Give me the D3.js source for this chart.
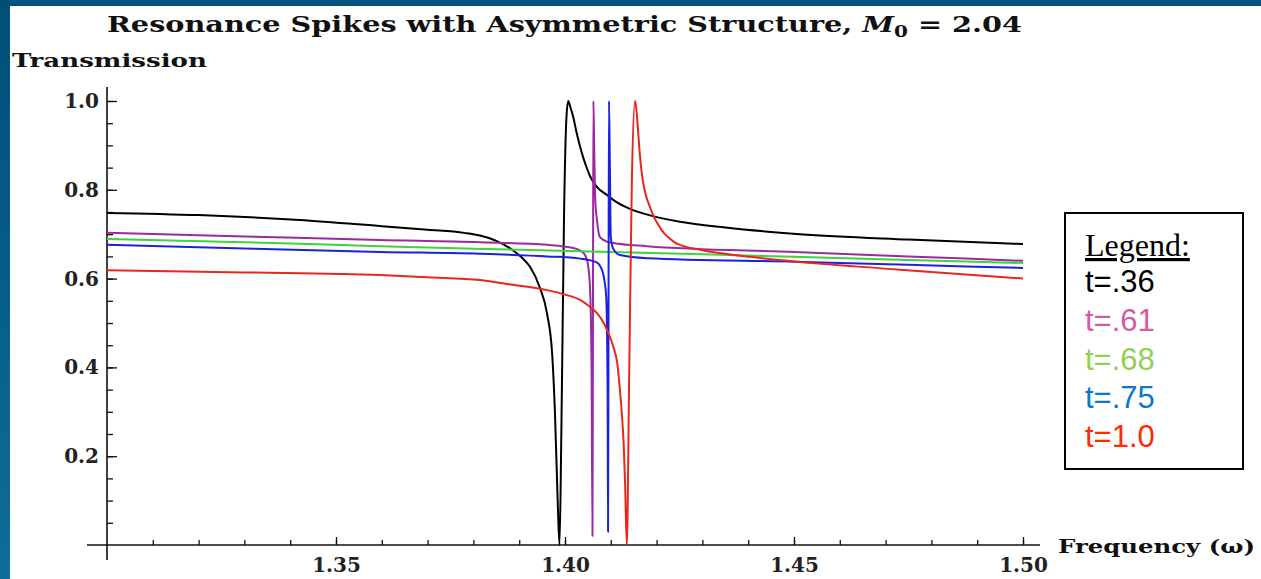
<!DOCTYPE html>
<html>
<head>
<meta charset="utf-8">
<script src="https://cdn.jsdelivr.net/npm/d3@7"></script>
<style>
    body { margin: 0; background: #fff; }
    #chart-area { width: 1261px; height: 579px; }
</style>
</head>
<body>
<div id="chart-area"></div>
<script>
// Curves: [frequency, transmission]
const t36 = [[1.300,0.748],[1.320,0.743],[1.342,0.732],[1.360,0.718],[1.370,0.710],[1.378,0.703],
    [1.3814,0.697],[1.385,0.685],[1.3886,0.664],[1.3905,0.648],[1.3924,0.626],[1.3945,0.58],
    [1.3961,0.52],[1.3972,0.43],[1.3978,0.30],[1.3984,0.10],[1.3988,0.0],[1.3992,0.25],
    [1.3998,0.75],[1.4003,0.96],[1.4007,1.0],[1.4012,0.985],[1.4018,0.964],[1.4025,0.93],
    [1.4033,0.897],[1.4040,0.872],[1.4048,0.848],[1.4055,0.83],[1.4070,0.806],[1.4092,0.788],
    [1.4110,0.774],[1.4142,0.757],[1.4180,0.744],[1.4251,0.728],[1.4350,0.715],[1.4513,0.70],
    [1.475,0.688],[1.500,0.678]];
const t61 = [[1.300,0.703],[1.330,0.695],[1.3596,0.687],[1.3814,0.682],[1.3961,0.676],[1.4018,0.669],
    [1.4040,0.658],[1.4047,0.645],[1.4051,0.626],[1.4055,0.57],[1.4058,0.40],[1.4060,0.02],
    [1.4061,0.5],[1.4062,1.0],[1.4064,0.88],[1.4066,0.78],[1.4070,0.73],[1.4076,0.694],
    [1.4090,0.684],[1.4105,0.68],[1.4179,0.673],[1.450,0.66],[1.475,0.65],[1.500,0.64]];
const t68 = [[1.300,0.689],[1.330,0.682],[1.3596,0.673],[1.390,0.665],[1.410,0.66],[1.430,0.655],
    [1.450,0.649],[1.475,0.642],[1.500,0.635]];
const t75 = [[1.300,0.676],[1.330,0.668],[1.3596,0.66],[1.3814,0.656],[1.3961,0.65],[1.4033,0.645],
    [1.4070,0.636],[1.4078,0.626],[1.4083,0.612],[1.4090,0.559],[1.4093,0.35],[1.4094,0.03],
    [1.4095,0.5],[1.4096,1.0],[1.4098,0.85],[1.4100,0.694],[1.4105,0.668],[1.4120,0.653],
    [1.4179,0.646],[1.450,0.638],[1.475,0.631],[1.500,0.624]];
const t100 = [[1.300,0.619],[1.330,0.614],[1.3596,0.608],[1.370,0.603],[1.3814,0.597],[1.3886,0.586],
    [1.3961,0.574],[1.4000,0.564],[1.4033,0.552],[1.4050,0.540],[1.4070,0.522],[1.4085,0.499],
    [1.4098,0.469],[1.4106,0.445],[1.4114,0.41],[1.4119,0.36],[1.4124,0.297],[1.4128,0.23],
    [1.4131,0.146],[1.4135,0.0],[1.4140,0.37],[1.4146,0.82],[1.4153,1.0],[1.4156,0.98],
    [1.4159,0.94],[1.4163,0.885],[1.4170,0.82],[1.4176,0.79],[1.4186,0.76],[1.4196,0.735],
    [1.4207,0.716],[1.4218,0.70],[1.4229,0.69],[1.4240,0.681],[1.4251,0.676],[1.4300,0.664],
    [1.4404,0.649],[1.4731,0.62],[1.500,0.60]];

const seriesNames = ["t=.36", "t=.61", "t=.68", "t=.75", "t=1.0"];
const seriesData = [t36, t61, t68, t75, t100];
const lineColors = ["#000000", "#9b2a9e", "#3ed33e", "#1f1fe0", "#e8261e"];
const legendColors = ["#000000", "#d65aa3", "#92d050", "#0a78cc", "#ff2a00"];

const xMajorTicks = [1.35, 1.40, 1.45, 1.50];
const yMajorTicks = [0.2, 0.4, 0.6, 0.8, 1.0];

class ResonanceChart {
    constructor(parentElement) {
        this.parentElement = parentElement;
        this.initVis();
    }

    initVis() {
        let vis = this;

        vis.svg = d3.select("#" + vis.parentElement)
            .append("svg")
            .attr("width", 1261)
            .attr("height", 579);

        // Blue slide frame on the top and left edges
        let grad = vis.svg.append("defs").append("linearGradient")
            .attr("id", "frame-grad")
            .attr("x1", 0).attr("y1", 0).attr("x2", 0).attr("y2", 1);
        grad.append("stop").attr("offset", "0%").attr("stop-color", "#004f78");
        grad.append("stop").attr("offset", "100%").attr("stop-color", "#0f6d99");

        vis.svg.append("rect").attr("x", 0).attr("y", 0).attr("width", 1261).attr("height", 6)
            .attr("fill", "#00537c");
        vis.svg.append("rect").attr("x", 0).attr("y", 0).attr("width", 10).attr("height", 579)
            .attr("fill", "url(#frame-grad)");

        // Scales
        vis.x = d3.scaleLinear().domain([1.30, 1.50]).range([107, 1023]);
        vis.y = d3.scaleLinear().domain([0, 1.0]).range([545, 101]);

        vis.drawAxes();
        vis.drawLines();
        vis.drawText();
        vis.drawLegend();
    }

    drawAxes() {
        let vis = this;
        let labelFont = "'DejaVu Serif', serif";

        // minor ticks first
        vis.svg.append("g")
            .attr("transform", `translate(${vis.x(1.30)},0)`)
            .call(d3.axisLeft(vis.y).tickValues(d3.range(1, 21).map(i => i * 0.05)).tickSize(-6).tickFormat(""))
            .call(g => g.select(".domain").remove())
            .call(g => g.selectAll("line").attr("stroke", "#111").attr("stroke-width", 1.3));

        vis.svg.append("g")
            .attr("transform", `translate(0,${vis.y(0)})`)
            .call(d3.axisBottom(vis.x).tickValues(d3.range(1, 21).map(i => 1.30 + i * 0.01)).tickSize(-5).tickFormat(""))
            .call(g => g.select(".domain").remove())
            .call(g => g.selectAll("line").attr("stroke", "#111").attr("stroke-width", 1.3));

        // major ticks with labels
        let yAxis = vis.svg.append("g")
            .attr("transform", `translate(${vis.x(1.30)},0)`)
            .call(d3.axisLeft(vis.y).tickValues(yMajorTicks).tickSize(-10).tickPadding(8).tickFormat(d3.format(".1f")));
        yAxis.select(".domain").remove();

        let xAxis = vis.svg.append("g")
            .attr("transform", `translate(0,${vis.y(0)})`)
            .call(d3.axisBottom(vis.x).tickValues(xMajorTicks).tickSize(-8).tickPadding(13).tickFormat(d3.format(".2f")));
        xAxis.select(".domain").remove();

        [yAxis, xAxis].forEach(g => {
            g.selectAll("line").attr("stroke", "#111").attr("stroke-width", 1.3);
            g.selectAll("text")
                .attr("fill", "#222")
                .style("font-family", labelFont)
                .style("font-weight", "bold")
                .style("font-size", "20px");
        });

        // axis lines, slightly past the origin like Mathematica
        vis.svg.append("line")
            .attr("x1", vis.x(1.30)).attr("x2", vis.x(1.30))
            .attr("y1", 87).attr("y2", 560)
            .attr("stroke", "#111").attr("stroke-width", 1.6);
        vis.svg.append("line")
            .attr("x1", 87).attr("x2", 1040)
            .attr("y1", vis.y(0)).attr("y2", vis.y(0))
            .attr("stroke", "#111").attr("stroke-width", 1.6);
    }

    drawLines() {
        let vis = this;

        let line = d3.line()
            .x(d => vis.x(d[0]))
            .y(d => vis.y(d[1]))
            .curve(d3.curveMonotoneX);

        vis.svg.selectAll(".curve")
            .data(seriesData)
            .enter()
            .append("path")
            .attr("class", "curve")
            .attr("d", d => line(d))
            .attr("fill", "none")
            .attr("stroke", (d, i) => lineColors[i])
            .attr("stroke-width", 2)
            .attr("stroke-linejoin", "round");
    }

    drawText() {
        let vis = this;
        let serif = "'DejaVu Serif', serif";

        let title = vis.svg.append("text")
            .attr("x", 107)
            .attr("y", 32)
            .attr("textLength", 915)
            .attr("lengthAdjust", "spacingAndGlyphs")
            .style("font-family", serif)
            .style("font-weight", "bold")
            .style("font-size", "23px")
            .attr("fill", "#111");
        title.append("tspan").text("Resonance Spikes with Asymmetric Structure, ");
        title.append("tspan").style("font-style", "italic").text("M");
        title.append("tspan").attr("dy", 5).style("font-size", "16px").text("0");
        title.append("tspan").attr("dy", -5).text(" = 2.04");

        vis.svg.append("text")
            .attr("x", 12)
            .attr("y", 67)
            .attr("textLength", 195)
            .attr("lengthAdjust", "spacingAndGlyphs")
            .style("font-family", serif)
            .style("font-weight", "bold")
            .style("font-size", "19px")
            .attr("fill", "#111")
            .text("Transmission");

        vis.svg.append("text")
            .attr("x", 1058)
            .attr("y", 553)
            .attr("textLength", 197)
            .attr("lengthAdjust", "spacingAndGlyphs")
            .style("font-family", serif)
            .style("font-weight", "bold")
            .style("font-size", "19px")
            .attr("fill", "#111")
            .text("Frequency (ω)");
    }

    drawLegend() {
        let vis = this;

        vis.legend = vis.svg.append("g").attr("class", "legend");

        vis.legend.append("rect")
            .attr("x", 1065).attr("y", 213)
            .attr("width", 178).attr("height", 256)
            .attr("fill", "#fff")
            .attr("stroke", "#000")
            .attr("stroke-width", 2);

        vis.legend.append("text")
            .attr("x", 1085).attr("y", 256)
            .style("font-family", "'Liberation Serif', serif")
            .style("font-size", "32px")
            .style("text-decoration", "underline")
            .text("Legend:");

        seriesNames.forEach((name, i) => {
            vis.legend.append("text")
                .attr("x", 1085)
                .attr("y", 292 + i * 38.8)
                .attr("fill", legendColors[i])
                .style("font-family", "'Liberation Sans', Arial, sans-serif")
                .style("font-size", "31px")
                .text(name);
        });
    }
}

new ResonanceChart("chart-area");
</script>
</body>
</html>
